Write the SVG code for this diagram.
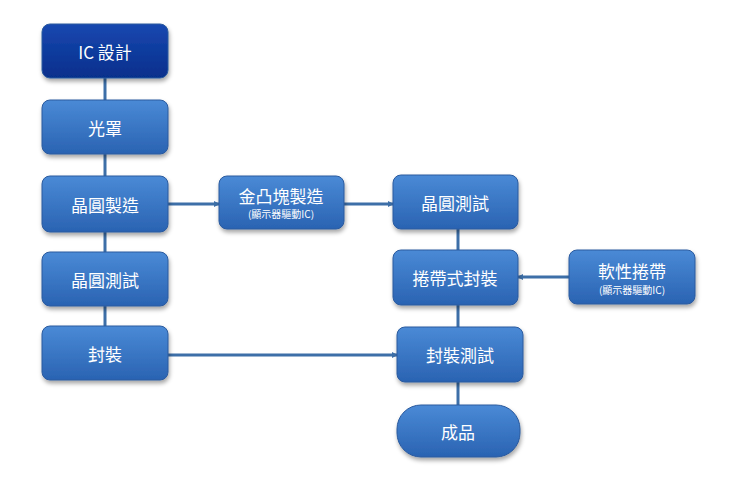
<svg xmlns="http://www.w3.org/2000/svg" width="736" height="485" viewBox="0 0 736 485">
<defs>
<linearGradient id="g" x1="0" y1="0" x2="0" y2="1"><stop offset="0" stop-color="#4a8ad6"/><stop offset="1" stop-color="#2a63b2"/></linearGradient>
<linearGradient id="gd" x1="0" y1="0" x2="0" y2="1"><stop offset="0" stop-color="#1848b0"/><stop offset="1" stop-color="#062f8c"/></linearGradient>
<marker id="a" markerWidth="6" markerHeight="6" refX="5" refY="3" orient="auto" markerUnits="userSpaceOnUse"><path d="M0,0 L6,3 L0,6z" fill="#3d6fa8"/></marker>
<filter id="s" x="-10%" y="-10%" width="130%" height="140%"><feDropShadow dx="1" dy="3" stdDeviation="2" flood-color="#000" flood-opacity="0.35"/></filter>
</defs>
<style>
.n{fill:url(#g);stroke:#2a5a9e;stroke-width:1;filter:url(#s)}
.t{fill:#fff;font-family:"Noto Sans CJK TC","Liberation Sans",sans-serif;font-size:17px;text-anchor:middle;dominant-baseline:central}
.st{fill:#fff;font-family:"Noto Sans CJK TC","Liberation Sans",sans-serif;font-size:10px;text-anchor:middle}
.c{stroke:#3d6fa8;stroke-width:3;fill:none}
</style>
<g id="connectors">
<line class="c" x1="105" y1="78" x2="105" y2="100"/>
<line class="c" x1="105" y1="154" x2="105" y2="176"/>
<line class="c" x1="105" y1="232" x2="105" y2="252"/>
<line class="c" x1="105" y1="306" x2="105" y2="326"/>
<line class="c" x1="168" y1="204" x2="219" y2="204" marker-end="url(#a)"/>
<line class="c" x1="344" y1="204" x2="393" y2="204" marker-end="url(#a)"/>
<line class="c" x1="458" y1="229" x2="458" y2="250"/>
<line class="c" x1="569" y1="277" x2="518" y2="277" marker-end="url(#a)"/>
<line class="c" x1="458" y1="305" x2="458" y2="327"/>
<line class="c" x1="168" y1="355" x2="397" y2="355" marker-end="url(#a)"/>
<line class="c" x1="458" y1="382" x2="458" y2="405"/>
</g>
<g id="ic"><rect x="42" y="24" width="126" height="54" rx="8" class="n" style="fill:url(#gd)"/><text class="t" x="105" y="51">IC 設計</text></g>
<g id="mask"><rect x="42" y="100" width="126" height="54" rx="8" class="n"/><text class="t" x="105" y="127">光罩</text></g>
<g id="fab"><rect x="42" y="176" width="126" height="56" rx="8" class="n"/><text class="t" x="105" y="204">晶圓製造</text></g>
<g id="test1"><rect x="42" y="252" width="126" height="54" rx="8" class="n"/><text class="t" x="105" y="279">晶圓測試</text></g>
<g id="pkg"><rect x="42" y="326" width="126" height="54" rx="8" class="n"/><text class="t" x="105" y="353">封裝</text></g>
<g id="bump"><rect x="219" y="176" width="125" height="53" rx="8" class="n"/><text class="t" x="281" y="195">金凸塊製造</text><text class="st" x="281" y="218">(顯示器驅動IC)</text></g>
<g id="test2"><rect x="393" y="175" width="125" height="54" rx="8" class="n"/><text class="t" x="455" y="202">晶圓測試</text></g>
<g id="tcp"><rect x="393" y="250" width="125" height="55" rx="8" class="n"/><text class="t" x="455" y="277">捲帶式封裝</text></g>
<g id="tape"><rect x="569" y="250" width="126" height="54" rx="8" class="n"/><text class="t" x="632" y="270">軟性捲帶</text><text class="st" x="632" y="294">(顯示器驅動IC)</text></g>
<g id="ftest"><rect x="397" y="327" width="126" height="55" rx="8" class="n"/><text class="t" x="460" y="354">封裝測試</text></g>
<g id="done"><rect x="397" y="405" width="123" height="52" rx="24" class="n"/><text class="t" x="458" y="431">成品</text></g>
</svg>
